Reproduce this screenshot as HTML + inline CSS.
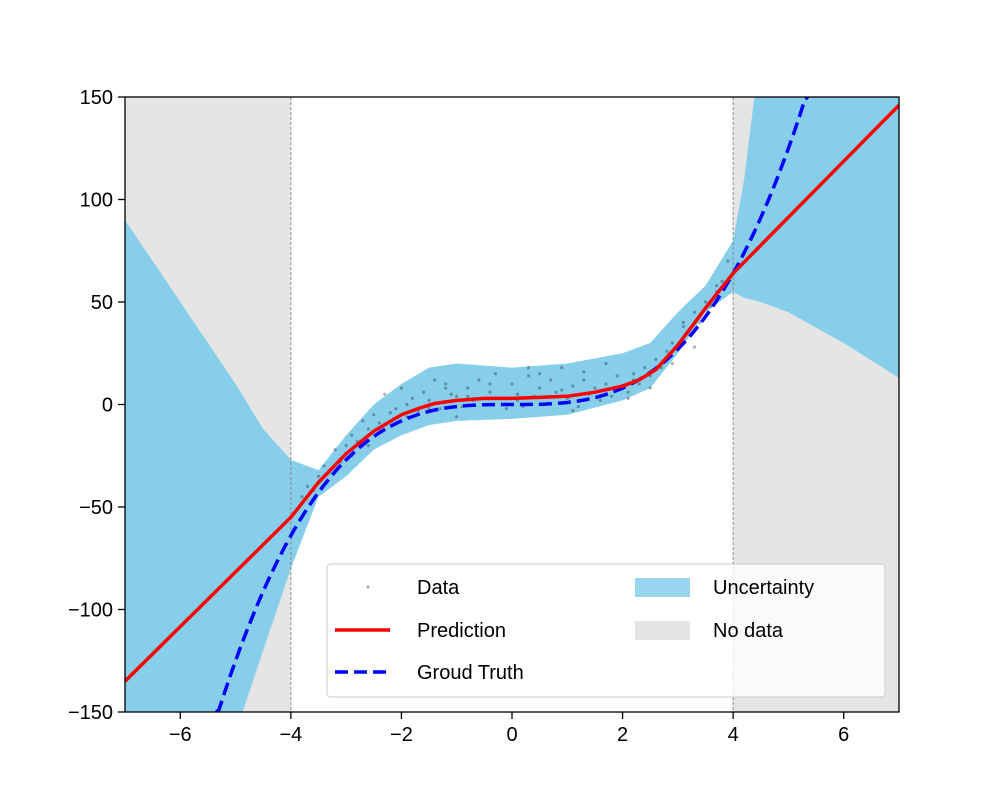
<!DOCTYPE html>
<html><head><meta charset="utf-8"><style>
html,body{margin:0;padding:0;background:#fff;overflow:hidden;width:1000px;height:800px;}
svg{display:block;}
svg text{font-family:"Liberation Sans","DejaVu Sans",sans-serif;}
</style></head><body>
<svg id="chart" width="1000" height="800" xmlns="http://www.w3.org/2000/svg">
<defs><clipPath id="plotclip"><rect x="125" y="97" width="774" height="615"/></clipPath></defs>
<g id="plot" clip-path="url(#plotclip)"></g>
<g id="axes"></g>
<g id="legend"></g>
</svg>
<script>
const xTicks=[-6,-4,-2,0,2,4,6];
const yTicks=[-150,-100,-50,0,50,100,150];
const noDataRanges=[[-7,-4],[4,7]];
const bandX=[-7,-6,-5,-4.5,-4,-3.5,-3,-2.5,-2,-1.5,-1,0,1,2,2.5,3,3.5,4,4.2,4.5,5,6,7];
const bandUpper=[90,50,10,-12,-27,-32,-15,0,10,18,20,18,20,25,30,45,58,80,110,175,220,260,300];
const bandLower=[-320,-240,-160,-120,-80,-45,-35,-22,-15,-10,-8,-7,-5,2,8,25,45,55,52,50,45,30,13];
const predX=[-7,-4,-3.5,-3,-2.5,-2,-1.7,-1.4,-1,-0.5,0,0.5,1,1.5,2,2.3,2.6,3,3.5,4,7];
const predY=[-135,-55,-38,-24,-13,-5,-2,0.5,2,3,3,3.5,4,6,9,12,17,29,47,64,146];
const dataX=[-3.8,-3.7,-3.6,-3.5,-3.4,-3.3,-3.2,-3.1,-3.0,-2.9,-2.8,-2.7,-2.6,-2.5,-2.4,-2.3,-2.2,-2.1,-2.0,-1.9,-1.8,-1.7,-1.6,-1.5,-1.4,-1.3,-1.2,-1.1,-1.0,-0.9,-0.8,-0.7,-0.6,-0.5,-0.4,-0.3,-0.2,-0.1,0.0,0.1,0.2,0.3,0.4,0.5,0.6,0.7,0.8,0.9,1.0,1.1,1.2,1.3,1.4,1.5,1.6,1.7,1.8,1.9,2.0,2.1,2.2,2.3,2.4,2.5,2.6,2.7,2.8,2.9,3.0,3.1,3.2,3.3,3.4,3.5,3.6,3.7,3.8,3.9,-3.2,-2.9,-2.6,-2.3,-1.9,-1.5,-1.2,-0.8,-0.4,0.1,0.5,0.9,1.3,1.7,2.1,2.5,2.9,3.3,3.7,-3.5,-2.4,-1.0,0.3,1.1,2.2,3.1];
const dataY=[-45,-40,-42,-35,-30,-33,-22,-28,-20,-15,-18,-8,-12,-5,-9,5,-4,-2,8,0,3,-3,6,2,12,-2,10,5,4,-1,8,2,12,0,6,15,3,-2,10,5,-1,14,4,8,0,12,6,18,3,9,-1,16,5,8,2,10,4,14,8,6,12,10,18,14,22,18,26,30,28,38,35,45,40,50,48,58,60,70,-30,-25,-20,-10,-6,-2,8,4,10,2,15,7,12,20,3,8,20,28,55,-38,-12,-6,18,-3,15,40];
const X=v=>125+(v+7)*774/14;
const Y=v=>404.5-Math.max(-150,Math.min(150,v))*615/300;
const NS='http://www.w3.org/2000/svg';
function mk(tag,attrs,parent){const e=document.createElementNS(NS,tag);for(const k in attrs)e.setAttribute(k,attrs[k]);parent.appendChild(e);return e;}
function interp(xs,ys,x){for(let i=0;i<xs.length-1;i++){if(x<=xs[i+1]){const t=(x-xs[i])/(xs[i+1]-xs[i]);return ys[i]+t*(ys[i+1]-ys[i]);}}return ys[ys.length-1];}
const plot=document.getElementById('plot'),axes=document.getElementById('axes'),leg=document.getElementById('legend');
noDataRanges.forEach(r=>{const e=mk('rect',{x:X(r[0]),y:97,width:X(r[1])-X(r[0]),height:615,fill:'#e5e5e5'},plot);

});
const up=[],lo=[];
for(let x=-7;x<=7.0001;x+=0.01){const xx=Math.min(x,7);up.push(X(xx).toFixed(1)+','+Y(interp(bandX,bandUpper,xx)).toFixed(1));lo.push(X(xx).toFixed(1)+','+Y(interp(bandX,bandLower,xx)).toFixed(1));}
const band=mk('path',{d:'M'+up.join(' L')+' L'+lo.reverse().join(' L')+'Z',fill:'#87ceeb'},plot);


[-4,4].forEach(v=>{const l=mk('line',{x1:X(v),x2:X(v),y1:97,y2:712,stroke:'#888',"stroke-width":1,"stroke-dasharray":'3,2'},plot);

});
dataX.forEach((x,i)=>{const c=mk('circle',{cx:X(x),cy:Y(dataY[i]),r:1.6,fill:'#000','fill-opacity':0.3},plot);

});
let gp=[];for(let x=-5.35;x<=5.35;x+=0.05)gp.push(X(x).toFixed(1)+','+Y(x*x*x).toFixed(1));
const gt=mk('polyline',{points:gp.join(' '),fill:'none',stroke:'#0000ff','stroke-width':3.5,'stroke-dasharray':'13,6'},plot);


const pr=mk('polyline',{points:predX.map((x,i)=>X(x)+','+Y(predY[i])).join(' '),fill:'none',stroke:'#ff0000','stroke-width':3.5,'stroke-linejoin':'round'},plot);


mk('rect',{x:125,y:97,width:774,height:615,fill:'none',stroke:'#000','stroke-width':1.3},axes);
xTicks.forEach(v=>{mk('line',{x1:X(v),x2:X(v),y1:712,y2:719,stroke:'#000','stroke-width':1.3},axes);
const t=mk('text',{x:X(v),y:741,'text-anchor':'middle','font-size':20},axes);t.textContent=v<0?'\u2212'+(-v):v;

});
yTicks.forEach(v=>{mk('line',{x1:118,x2:125,y1:Y(v),y2:Y(v),stroke:'#000','stroke-width':1.3},axes);
const t=mk('text',{x:113,y:Y(v)+7,'text-anchor':'end','font-size':20},axes);t.textContent=v<0?'\u2212'+(-v):v;

});
mk('rect',{x:327,y:564,width:558,height:133,rx:4,fill:'#fff','fill-opacity':0.8,stroke:'#ccc'},leg);
const entries=[['Data',340,587,'dot'],['Prediction',340,630,'red'],['Groud Truth',340,672,'blue'],['Uncertainty',635,587,'band'],['No data',635,630,'gray']];
entries.forEach(e=>{const [lab,x,y,k]=e;
if(k==='dot')mk('circle',{cx:x+28,cy:y,r:1.6,fill:'#000','fill-opacity':0.3},leg);
if(k==='red')mk('line',{x1:x-5,x2:x+50,y1:y,y2:y,stroke:'#f00','stroke-width':3.5},leg);
if(k==='blue')mk('line',{x1:x-5,x2:x+50,y1:y,y2:y,stroke:'#00f','stroke-width':3.5,'stroke-dasharray':'13,6'},leg);
if(k==='band')mk('rect',{x:x,y:y-9,width:55,height:19,fill:'#87ceeb','fill-opacity':0.85},leg);
if(k==='gray')mk('rect',{x:x,y:y-9,width:55,height:19,fill:'#e5e5e5'},leg);
const t=mk('text',{x:k==='band'||k==='gray'?x+78:x+77,y:y+7,'font-size':20},leg);t.textContent=lab;

});
</script>
</body></html>
